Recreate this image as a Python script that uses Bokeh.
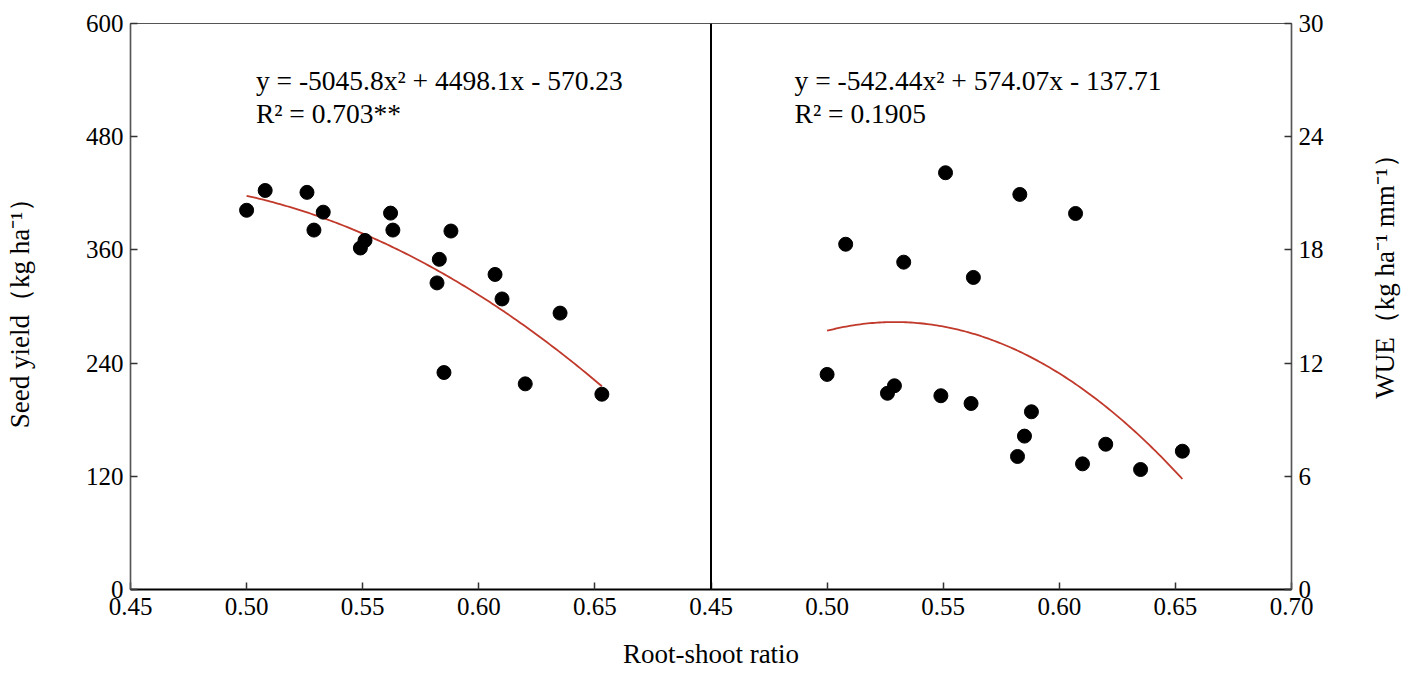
import math
import numpy as np
from bokeh.plotting import figure
from bokeh.layouts import row, column
from bokeh.models import Range1d, LinearAxis, FixedTicker, Label, Span
from bokeh.embed import file_html
from bokeh.resources import INLINE

# ---------------- data ----------------
root_shoot = [0.500, 0.508, 0.526, 0.533, 0.529, 0.549, 0.551, 0.562, 0.563,
              0.583, 0.582, 0.588, 0.585, 0.607, 0.610, 0.620, 0.635, 0.653]
seed_yield = [402, 423, 421, 400, 381, 362, 370, 399, 381,
              350, 325, 380, 230, 334, 308, 218, 293, 207]
wue = [11.40, 18.30, 10.40, 17.35, 10.80, 10.27, 22.09, 9.86, 16.54,
       20.94, 7.05, 9.42, 8.13, 19.93, 6.66, 7.70, 6.36, 7.33]

yield_fit_coef = [-5045.8, 4498.1, -570.23]
wue_fit_coef = [-542.44, 574.07, -137.71]

yield_eq = "y = -5045.8x² + 4498.1x - 570.23"
yield_r2 = "R² = 0.703**"
wue_eq = "y = -542.44x² + 574.07x - 137.71"
wue_r2 = "R² = 0.1905"

x_ticks = [0.45, 0.50, 0.55, 0.60, 0.65, 0.70]
x_tick_labels = ["0.45", "0.50", "0.55", "0.60", "0.65", "0.70"]
yield_ticks = [0, 120, 240, 360, 480, 600]
wue_ticks = [0, 6, 12, 18, 24, 30]

x_title = "Root-shoot ratio"
yield_title = "Seed yield（kg ha⁻¹）"
wue_title = "WUE（kg ha⁻¹ mm⁻¹）"

# ---------------- layout sizes ----------------
FONT = "Liberation Serif"
TICK_SIZE = "25px"
LABEL_SIZE = "27px"
EQ_SIZE = "27.5px"

TOTAL_W, TOTAL_H = 1401, 671
STRIP_W, STRIP_H = 44, 44
MAIN_W, MAIN_H = TOTAL_W - STRIP_W, TOTAL_H - STRIP_H
B_LEFT, B_TOP = 130, 23
FRAME_W, FRAME_H = 1161, 566

span = x_ticks[-1] - x_ticks[0]
left_range = Range1d(x_ticks[0], x_ticks[-1] + span)     # left panel occupies first half
right_range = Range1d(x_ticks[0] - span, x_ticks[-1])    # right panel occupies second half

p = figure(width=MAIN_W, height=MAIN_H, output_backend="svg", toolbar_location=None,
           x_range=left_range, y_range=Range1d(yield_ticks[0], yield_ticks[-1]),
           min_border_left=B_LEFT, min_border_right=MAIN_W - B_LEFT - FRAME_W,
           min_border_top=B_TOP, min_border_bottom=MAIN_H - B_TOP - FRAME_H)
p.extra_x_ranges = {"right": right_range}
p.extra_y_ranges = {"wue": Range1d(wue_ticks[0], wue_ticks[-1])}
p.grid.visible = False
p.outline_line_color = "#555555"
p.outline_line_width = 1.2
p.background_fill_color = "white"
p.border_fill_color = "white"

# bottom axis: left panel ticks + right panel ticks (shown in left coordinates)
bottom_pos = list(x_ticks[:-1]) + [round(t + span, 2) for t in x_ticks]
bottom_lab = list(x_tick_labels[:-1]) + list(x_tick_labels)
xa = p.xaxis[0]
xa.ticker = FixedTicker(ticks=bottom_pos)
xa.major_label_overrides = {pos: lab for pos, lab in zip(bottom_pos, bottom_lab)}

ya = p.yaxis[0]
ya.ticker = FixedTicker(ticks=yield_ticks)
ya.axis_label = yield_title

ra = LinearAxis(y_range_name="wue", ticker=FixedTicker(ticks=wue_ticks))
p.add_layout(ra, "right")

for ax in (xa, ya, ra):
    ax.major_tick_in = 7
    ax.major_tick_out = 0
    ax.minor_tick_line_color = None
    ax.major_label_text_font = FONT
    ax.major_label_text_font_size = TICK_SIZE
    ax.major_label_text_color = "black"
    ax.axis_label_text_font = FONT
    ax.axis_label_text_font_size = LABEL_SIZE
    ax.axis_label_text_font_style = "normal"
    ax.axis_label_text_color = "black"
    ax.major_label_standoff = 7
    ax.major_tick_line_color = "#333333"
    ax.major_tick_line_width = 1.5
xa.major_label_standoff = 8
ya.axis_label_standoff = 48
xa.axis_line_color = "black"
xa.axis_line_width = 2
ya.axis_line_color = "#555555"
ya.axis_line_width = 1.5
ra.axis_line_color = "#555555"
ra.axis_line_width = 1.5

# divider between the two panels
p.add_layout(Span(location=x_ticks[-1], dimension="height",
                  line_color="black", line_width=2))

# fitted curves from the printed equations
xs = np.linspace(min(root_shoot), max(root_shoot), 150)
p.line(xs, np.polyval(yield_fit_coef, xs), line_color="#c0392b", line_width=1.8)
p.line(xs, np.polyval(wue_fit_coef, xs), line_color="#c0392b", line_width=1.8,
       x_range_name="right", y_range_name="wue")

# scatter points
p.scatter(root_shoot, seed_yield, size=14, fill_color="black", line_color="black")
p.scatter(root_shoot, wue, size=14, fill_color="black", line_color="black",
          x_range_name="right", y_range_name="wue")

# equations
for txt, yv in ((yield_eq, 540), (yield_r2, 505)):
    p.add_layout(Label(x=0.504, y=yv, text=txt, text_font=FONT,
                       text_font_size=EQ_SIZE, text_baseline="middle",
                       text_color="black"))
for txt, yv in ((wue_eq, 26.98), (wue_r2, 25.23)):
    p.add_layout(Label(x=0.486, y=yv, text=txt, text_font=FONT,
                       text_font_size=EQ_SIZE, text_baseline="middle",
                       text_color="black", x_range_name="right",
                       y_range_name="wue"))


def strip(w, h):
    s = figure(width=w, height=h, output_backend="svg", toolbar_location=None,
               x_range=Range1d(0, w), y_range=Range1d(h, 0),
               min_border=0, min_border_left=0, min_border_right=0,
               min_border_top=0, min_border_bottom=0)
    s.axis.visible = False
    s.grid.visible = False
    s.outline_line_color = None
    s.background_fill_color = "white"
    s.border_fill_color = "white"
    return s


# right strip: WUE title, reading bottom-to-top
rs = strip(STRIP_W, MAIN_H)
rs.add_layout(Label(x=27, y=273, text=wue_title, text_font=FONT,
                    text_font_size=LABEL_SIZE, text_align="center",
                    text_baseline="middle", angle=math.pi / 2, text_color="black"))

# bottom strip: shared x title centred on the frame
bs = strip(TOTAL_W, STRIP_H)
bs.add_layout(Label(x=B_LEFT + FRAME_W / 2, y=26, text=x_title, text_font=FONT,
                    text_font_size=LABEL_SIZE, text_align="center",
                    text_baseline="middle", text_color="black"))

layout = column(row(p, rs, spacing=0), bs, spacing=0)

open("out.html", "w").write(file_html(layout, INLINE))
